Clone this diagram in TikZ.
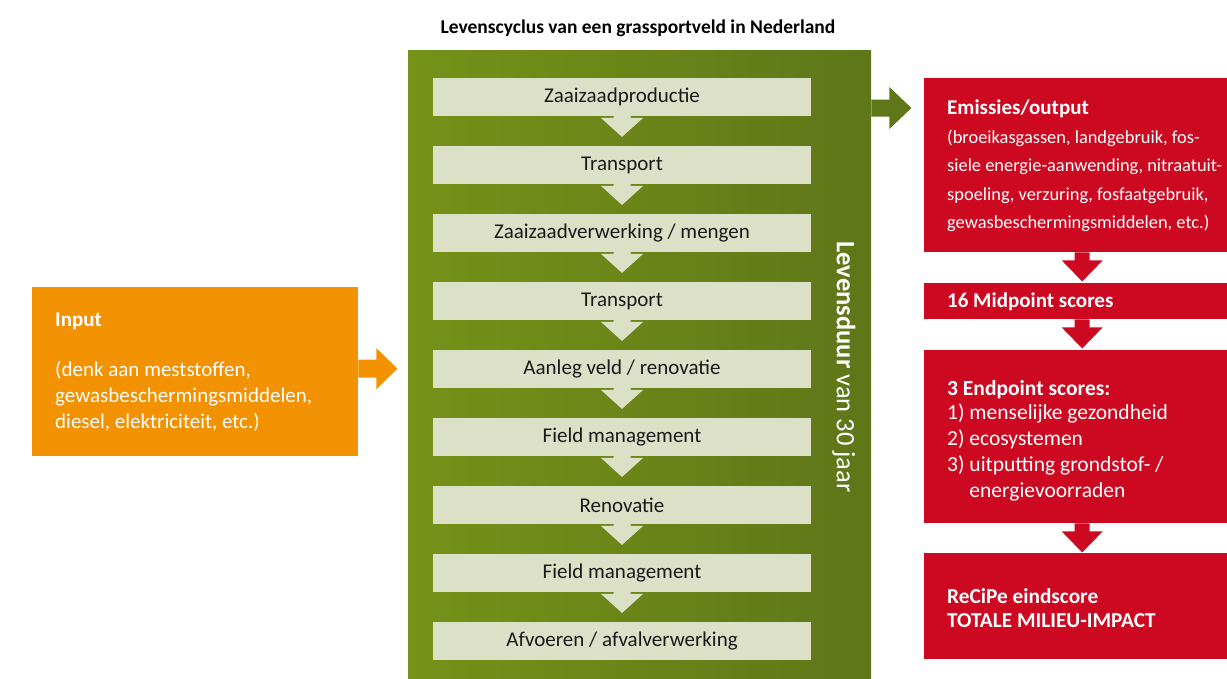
\documentclass[tikz,border=0pt]{standalone}
\usepackage{fontspec}
\setmainfont{Carlito}
\usetikzlibrary{calc}
\definecolor{stepgreen}{RGB}{219,224,198}
\definecolor{lightgreen}{RGB}{118,146,24}
\definecolor{darkgreen}{RGB}{95,118,25}
\definecolor{inputorange}{RGB}{243,146,0}
\definecolor{outred}{RGB}{205,9,33}
\definecolor{steptext}{RGB}{26,26,26}
% block arrows: start, stem length, head length, half stem, half head, colour
\newcommand{\arrowdown}[6]{%
  \fill[#6] ($(#1)+(-#4,0)$) -- ++(0,#2) -- ++(#4-#5,0) -- ++(#5,#3) -- ++(#5,-#3) -- ++(#4-#5,0) -- ++(0,-#2) -- cycle;}
\newcommand{\arrowright}[6]{%
  \fill[#6] ($(#1)+(0,-#4)$) -- ++(#2,0) -- ++(0,#4-#5) -- ++(#3,#5) -- ++(-#3,#5) -- ++(0,#4-#5) -- ++(-#2,0) -- cycle;}
\tikzset{
  stepbox/.style={fill=stepgreen, text=steptext, minimum width=378pt, minimum height=37.5pt, inner sep=0pt, font=\fontsize{21}{23}\selectfont},
  redbox/.style={fill=outred, anchor=north west, minimum width=316pt, inner sep=0pt},
  boxtext/.style={text=white, anchor=west, align=left, inner sep=0pt},
}
\begin{document}
\begin{tikzpicture}[x=1pt, y=-1pt, line join=round]
  \useasboundingbox (0,0) rectangle (1227,678);
  \node[font=\fontsize{19.5}{21}\selectfont\bfseries] (title) at (638,28) {Levenscyclus van een grassportveld in Nederland};
  % life cycle
  \node[left color=lightgreen, right color=darkgreen, anchor=north west, minimum width=463pt, minimum height=640pt, inner sep=0pt] (life) at (408,50) {};
  \foreach \t [count=\i] in {Zaaizaadproductie, Transport, Zaaizaadverwerking / mengen, Transport, Aanleg veld / renovatie, Field management, Renovatie, Field management, Afvoeren / afvalverwerking}
    \node[stepbox] (s\i) at (622,{97+68*(\i-1)}) {\t};
  \foreach \i in {1,...,8}
    \arrowdown{s\i.south}{2}{19}{8.5}{21}{stepgreen};
  \node[rotate=-90, text=white, font=\fontsize{26.5}{28}\selectfont] (duur) at (844,367) {\textbf{Levensduur} van 30 jaar};
  % input
  \node[fill=inputorange, anchor=north west, minimum width=326pt, minimum height=169pt, inner sep=0pt] (input) at (32,287) {};
  \node[boxtext, font=\fontsize{21}{26}\selectfont] (inputtext) at ($(input.west)+(23,0)$) {\textbf{Input}\\[24pt](denk aan meststoffen,\\gewasbeschermingsmiddelen,\\diesel, elektriciteit, etc.)};
  \arrowright{[yshift=3pt]input.east}{18}{21}{9}{20.5}{inputorange};
  \arrowright{life.east |- 0,108}{18}{22}{8.5}{21}{darkgreen};
  % output
  \node[redbox, minimum height=174pt] (emis) at (924,78) {};
  \node[redbox, minimum height=36pt] (mid) at (924,283) {};
  \node[redbox, minimum height=173pt] (end) at (924,350) {};
  \node[redbox, minimum height=106pt] (recipe) at (924,553) {};
  \node[boxtext, font=\fontsize{18.4}{28.5}\selectfont] (emistext) at ($(emis.west)+(23,1)$) {\textbf{\fontsize{21}{28.5}\selectfont Emissies/output}\\(broeikasgassen, landgebruik, fos-\\siele energie-aanwending, nitraatuit-\\spoeling, verzuring, fosfaatgebruik,\\gewasbeschermingsmiddelen, etc.)};
  \node[boxtext, font=\fontsize{21}{23}\selectfont\bfseries] (midtext) at ($(mid.west)+(23,1)$) {16 Midpoint scores};
  \node[boxtext, font=\fontsize{21.5}{26}\selectfont] (endtext) at ($(end.west)+(23,4)$) {\textbf{3 Endpoint scores:}\\[-2pt]1) menselijke gezondheid\\2) ecosystemen\\3) uitputting grondstof- /\\\phantom{3) }energievoorraden};
  \node[boxtext, font=\fontsize{21.3}{24}\selectfont\bfseries] (recipetext) at ($(recipe.west)+(23,2)$) {ReCiPe eindscore\\TOTALE MILIEU-IMPACT};
  \arrowdown{emis.south}{8}{21}{7.5}{20.5}{outred};
  \arrowdown{mid.south}{8}{21}{7.5}{20.5}{outred};
  \arrowdown{end.south}{8}{21}{7.5}{20.5}{outred};
\end{tikzpicture}
\end{document}
